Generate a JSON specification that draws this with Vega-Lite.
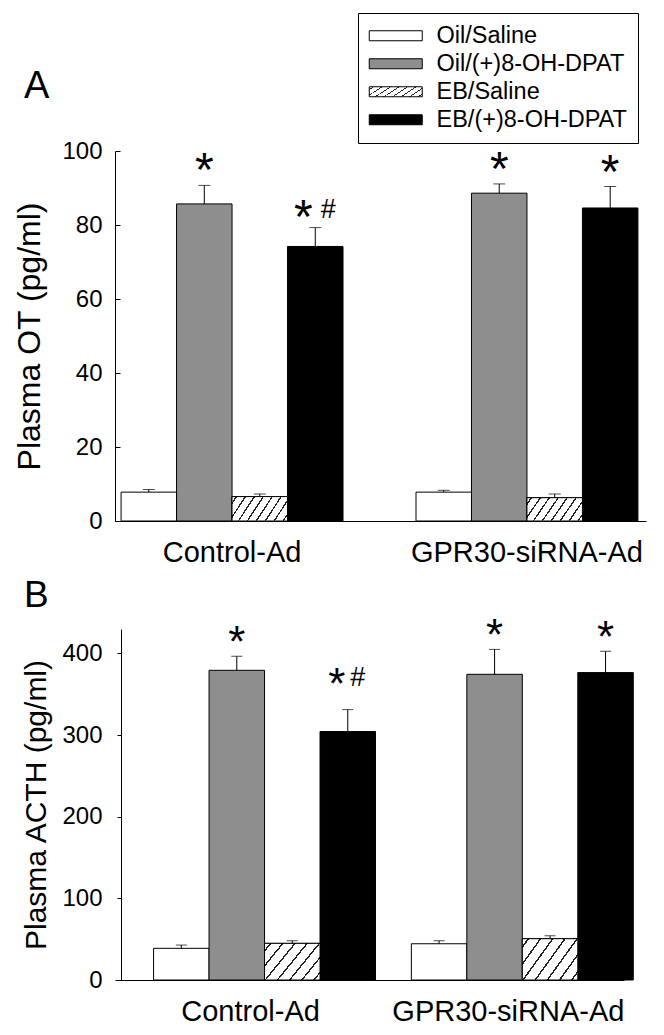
{
  "$schema": "https://vega.github.io/schema/vega-lite/v6.json",
  "autosize": {"type": "pad"},
  "padding": {"left": 13, "top": 12, "right": 5, "bottom": 5},
  "spacing": 10,
  "background": "white",
  "config": {
    "font": "Liberation Sans",
    "view": {"stroke": null},
    "axis": {"grid": false, "domainColor": "black", "domainWidth": 1, "tickColor": "black", "labelColor": "black", "titleColor": "black", "labelFont": "Liberation Sans", "titleFont": "Liberation Sans", "titleFontWeight": "normal", "labelLimit": 0},
    "title": {"font": "Liberation Sans", "fontWeight": "normal", "color": "black"}
  },
  "datasets": {
    "ot": [
      {"group": "Control-Ad", "treatment": "Oil/Saline", "mean": 7.8, "upper": 8.5, "star": "", "hash": ""},
      {"group": "Control-Ad", "treatment": "Oil/(+)8-OH-DPAT", "mean": 85.7, "upper": 90.7, "star": "*", "hash": ""},
      {"group": "Control-Ad", "treatment": "EB/Saline", "mean": 6.6, "upper": 7.3, "star": "", "hash": ""},
      {"group": "Control-Ad", "treatment": "EB/(+)8-OH-DPAT", "mean": 74.2, "upper": 79.3, "star": "*", "hash": "#"},
      {"group": "GPR30-siRNA-Ad", "treatment": "Oil/Saline", "mean": 7.8, "upper": 8.3, "star": "", "hash": ""},
      {"group": "GPR30-siRNA-Ad", "treatment": "Oil/(+)8-OH-DPAT", "mean": 88.6, "upper": 91.1, "star": "*", "hash": ""},
      {"group": "GPR30-siRNA-Ad", "treatment": "EB/Saline", "mean": 6.3, "upper": 7.3, "star": "", "hash": ""},
      {"group": "GPR30-siRNA-Ad", "treatment": "EB/(+)8-OH-DPAT", "mean": 84.6, "upper": 90.4, "star": "*", "hash": ""}
    ],
    "acth": [
      {"group": "Control-Ad", "treatment": "Oil/Saline", "mean": 38.8, "upper": 42.8, "star": "", "hash": ""},
      {"group": "Control-Ad", "treatment": "Oil/(+)8-OH-DPAT", "mean": 379.4, "upper": 396.6, "star": "*", "hash": ""},
      {"group": "Control-Ad", "treatment": "EB/Saline", "mean": 44.9, "upper": 48.1, "star": "", "hash": ""},
      {"group": "Control-Ad", "treatment": "EB/(+)8-OH-DPAT", "mean": 304.4, "upper": 331.3, "star": "*", "hash": "#"},
      {"group": "GPR30-siRNA-Ad", "treatment": "Oil/Saline", "mean": 44.4, "upper": 48.1, "star": "", "hash": ""},
      {"group": "GPR30-siRNA-Ad", "treatment": "Oil/(+)8-OH-DPAT", "mean": 374.5, "upper": 405.0, "star": "*", "hash": ""},
      {"group": "GPR30-siRNA-Ad", "treatment": "EB/Saline", "mean": 50.6, "upper": 54.2, "star": "", "hash": ""},
      {"group": "GPR30-siRNA-Ad", "treatment": "EB/(+)8-OH-DPAT", "mean": 376.6, "upper": 402.7, "star": "*", "hash": ""}
    ]
  },
  "vconcat": [
    {
      "width": 531,
      "height": 370,
      "title": {"text": "A", "anchor": "start", "frame": "group", "fontSize": 38, "dx": -91, "offset": 33},
      "data": {"name": "ot"},
      "encoding": {
        "x": {"field": "group", "type": "nominal", "sort": ["Control-Ad", "GPR30-siRNA-Ad"],
              "scale": {"paddingInner": 0.2475, "paddingOuter": 0.024, "align": 0.43},
              "axis": {"title": null, "labelAngle": 0, "ticks": false, "labelFontSize": 29, "labelPadding": 17}},
        "xOffset": {"field": "treatment", "type": "nominal", "sort": ["Oil/Saline", "Oil/(+)8-OH-DPAT", "EB/Saline", "EB/(+)8-OH-DPAT"],
                    "scale": {"paddingInner": 0, "paddingOuter": 0}}
      },
      "layer": [
        {
          "mark": {"type": "bar", "stroke": "black", "strokeWidth": 1},
          "encoding": {
            "y": {"field": "mean", "type": "quantitative", "scale": {"domain": [0, 100], "nice": false},
                  "axis": {"values": [0, 20, 40, 60, 80, 100], "title": "Plasma OT (pg/ml)", "titleFontSize": 32, "labelFontSize": 24, "tickSize": -5, "labelPadding": 18, "titlePadding": 15}},
            "fill": {"field": "treatment", "type": "nominal", "sort": ["Oil/Saline", "Oil/(+)8-OH-DPAT", "EB/Saline", "EB/(+)8-OH-DPAT"],
                     "scale": {"domain": ["Oil/Saline", "Oil/(+)8-OH-DPAT", "EB/Saline", "EB/(+)8-OH-DPAT"], "range": ["white", "#8e8e8e", "url(#gradient_0)", "black"]},
                     "legend": {"orient": "none", "legendX": 243, "legendY": -138, "title": null,
                                "symbolType": "M-2.3,-1H8.3V1H-2.3Z", "symbolSize": 100, "symbolStrokeColor": "black", "symbolStrokeWidth": 1, "symbolOpacity": 1,
                                "labelFontSize": 23.5, "labelFont": "Liberation Sans", "labelColor": "black", "labelOffset": 44, "labelLimit": 400,
                                "rowPadding": 3, "padding": 11, "strokeColor": "black", "fillColor": "white",
                                "encode": {"symbols": {
                                  "update": {"stroke": {"value": "black"}, "strokeWidth": {"value": 1}}}}}}
          }
        },
        {
          "transform": [{"filter": "datum.treatment === 'EB/Saline'"}],
          "mark": {"type": "bar", "stroke": "black", "strokeWidth": 1,
                   "fill": {"gradient": "linear", "x1": 0, "y1": 0, "x2": 1.189, "y2": 0.343, "stops": [
                     {"offset": 0, "color": "white"},
                     {"offset": 0.0515, "color": "white"}, {"offset": 0.0515, "color": "#222"}, {"offset": 0.0735, "color": "#222"}, {"offset": 0.0735, "color": "white"},
                     {"offset": 0.1765, "color": "white"}, {"offset": 0.1765, "color": "#222"}, {"offset": 0.1985, "color": "#222"}, {"offset": 0.1985, "color": "white"},
                     {"offset": 0.3015, "color": "white"}, {"offset": 0.3015, "color": "#222"}, {"offset": 0.3235, "color": "#222"}, {"offset": 0.3235, "color": "white"},
                     {"offset": 0.4265, "color": "white"}, {"offset": 0.4265, "color": "#222"}, {"offset": 0.4485, "color": "#222"}, {"offset": 0.4485, "color": "white"},
                     {"offset": 0.5515, "color": "white"}, {"offset": 0.5515, "color": "#222"}, {"offset": 0.5735, "color": "#222"}, {"offset": 0.5735, "color": "white"},
                     {"offset": 0.6765, "color": "white"}, {"offset": 0.6765, "color": "#222"}, {"offset": 0.6985, "color": "#222"}, {"offset": 0.6985, "color": "white"},
                     {"offset": 0.8015, "color": "white"}, {"offset": 0.8015, "color": "#222"}, {"offset": 0.8235, "color": "#222"}, {"offset": 0.8235, "color": "white"},
                     {"offset": 0.9265, "color": "white"}, {"offset": 0.9265, "color": "#222"}, {"offset": 0.9485, "color": "#222"}, {"offset": 0.9485, "color": "white"},
                     {"offset": 1, "color": "white"}]}},
          "encoding": {"y": {"field": "mean", "type": "quantitative"}}
        },
        {
          "mark": {"type": "rule", "color": "black", "strokeWidth": 1},
          "encoding": {"y": {"field": "mean", "type": "quantitative"}, "y2": {"field": "upper"}}
        },
        {
          "mark": {"type": "tick", "color": "black", "size": 12, "thickness": 1},
          "encoding": {"y": {"field": "upper", "type": "quantitative"}}
        },
        {
          "transform": [{"filter": "datum.star === '*' && datum.hash === ''"}],
          "mark": {"type": "text", "fontSize": 48, "font": "Liberation Sans", "baseline": "alphabetic", "align": "center", "dy": 1, "color": "black"},
          "encoding": {"y": {"field": "upper", "type": "quantitative"}, "text": {"field": "star"}}
        },
        {
          "transform": [{"filter": "datum.hash === '#'"}],
          "mark": {"type": "text", "fontSize": 48, "font": "Liberation Sans", "baseline": "alphabetic", "align": "center", "dy": 5, "dx": -12, "color": "black"},
          "encoding": {"y": {"field": "upper", "type": "quantitative"}, "text": {"field": "star"}}
        },
        {
          "transform": [{"filter": "datum.hash === '#'"}],
          "mark": {"type": "text", "fontSize": 27, "font": "Liberation Sans", "baseline": "alphabetic", "align": "center", "dy": -10, "dx": 13, "color": "black"},
          "encoding": {"y": {"field": "upper", "type": "quantitative"}, "text": {"field": "hash"}}
        }
      ]
    },
    {
      "width": 509,
      "height": 351,
      "title": {"text": "B", "anchor": "start", "frame": "group", "fontSize": 37, "dx": -91, "offset": 0},
      "data": {"name": "acth"},
      "encoding": {
        "x": {"field": "group", "type": "nominal", "sort": ["Control-Ad", "GPR30-siRNA-Ad"],
              "scale": {"paddingInner": 0.2475, "paddingOuter": 0.111, "align": 0.674},
              "axis": {"title": null, "labelAngle": 0, "ticks": false, "labelFontSize": 29, "labelPadding": 17}},
        "xOffset": {"field": "treatment", "type": "nominal", "sort": ["Oil/Saline", "Oil/(+)8-OH-DPAT", "EB/Saline", "EB/(+)8-OH-DPAT"],
                    "scale": {"paddingInner": 0, "paddingOuter": 0}}
      },
      "layer": [
        {
          "mark": {"type": "bar", "stroke": "black", "strokeWidth": 1},
          "encoding": {
            "y": {"field": "mean", "type": "quantitative", "scale": {"domain": [0, 430], "nice": false},
                  "axis": {"values": [0, 100, 200, 300, 400], "offset": -6, "title": "Plasma ACTH (pg/ml)", "titleFontSize": 30, "labelFontSize": 24, "tickSize": 4, "labelPadding": 15, "titlePadding": 10}},
            "fill": {"field": "treatment", "type": "nominal", "sort": ["Oil/Saline", "Oil/(+)8-OH-DPAT", "EB/Saline", "EB/(+)8-OH-DPAT"],
                     "scale": {"domain": ["Oil/Saline", "Oil/(+)8-OH-DPAT", "EB/Saline", "EB/(+)8-OH-DPAT"], "range": ["white", "#8e8e8e", "white", "black"]},
                     "legend": null}
          }
        },
        {
          "transform": [{"filter": "datum.treatment === 'EB/Saline'"}],
          "mark": {"type": "bar", "stroke": "black", "strokeWidth": 1,
                   "fill": {"gradient": "linear", "x1": 0, "y1": 0, "x2": 1.193, "y2": 0.641, "stops": [
                     {"offset": 0, "color": "white"},
                     {"offset": 0.0609, "color": "white"}, {"offset": 0.0609, "color": "#222"}, {"offset": 0.0819, "color": "#222"}, {"offset": 0.0819, "color": "white"},
                     {"offset": 0.2038, "color": "white"}, {"offset": 0.2038, "color": "#222"}, {"offset": 0.2248, "color": "#222"}, {"offset": 0.2248, "color": "white"},
                     {"offset": 0.3466, "color": "white"}, {"offset": 0.3466, "color": "#222"}, {"offset": 0.3676, "color": "#222"}, {"offset": 0.3676, "color": "white"},
                     {"offset": 0.4895, "color": "white"}, {"offset": 0.4895, "color": "#222"}, {"offset": 0.5105, "color": "#222"}, {"offset": 0.5105, "color": "white"},
                     {"offset": 0.6324, "color": "white"}, {"offset": 0.6324, "color": "#222"}, {"offset": 0.6534, "color": "#222"}, {"offset": 0.6534, "color": "white"},
                     {"offset": 0.7752, "color": "white"}, {"offset": 0.7752, "color": "#222"}, {"offset": 0.7962, "color": "#222"}, {"offset": 0.7962, "color": "white"},
                     {"offset": 0.9181, "color": "white"}, {"offset": 0.9181, "color": "#222"}, {"offset": 0.9391, "color": "#222"}, {"offset": 0.9391, "color": "white"},
                     {"offset": 1, "color": "white"}]}},
          "encoding": {"y": {"field": "mean", "type": "quantitative"}}
        },
        {
          "mark": {"type": "rule", "color": "black", "strokeWidth": 1},
          "encoding": {"y": {"field": "mean", "type": "quantitative"}, "y2": {"field": "upper"}}
        },
        {
          "mark": {"type": "tick", "color": "black", "size": 11, "thickness": 1},
          "encoding": {"y": {"field": "upper", "type": "quantitative"}}
        },
        {
          "transform": [{"filter": "datum.star === '*' && datum.hash === ''"}],
          "mark": {"type": "text", "fontSize": 44, "font": "Liberation Sans", "baseline": "alphabetic", "align": "center", "dy": 1, "color": "black"},
          "encoding": {"y": {"field": "upper", "type": "quantitative"}, "text": {"field": "star"}}
        },
        {
          "transform": [{"filter": "datum.hash === '#'"}],
          "mark": {"type": "text", "fontSize": 44, "font": "Liberation Sans", "baseline": "alphabetic", "align": "center", "dy": -11, "dx": -11, "color": "black"},
          "encoding": {"y": {"field": "upper", "type": "quantitative"}, "text": {"field": "star"}}
        },
        {
          "transform": [{"filter": "datum.hash === '#'"}],
          "mark": {"type": "text", "fontSize": 27, "font": "Liberation Sans", "baseline": "alphabetic", "align": "center", "dy": -24, "dx": 10, "color": "black"},
          "encoding": {"y": {"field": "upper", "type": "quantitative"}, "text": {"field": "hash"}}
        }
      ]
    }
  ]
}
